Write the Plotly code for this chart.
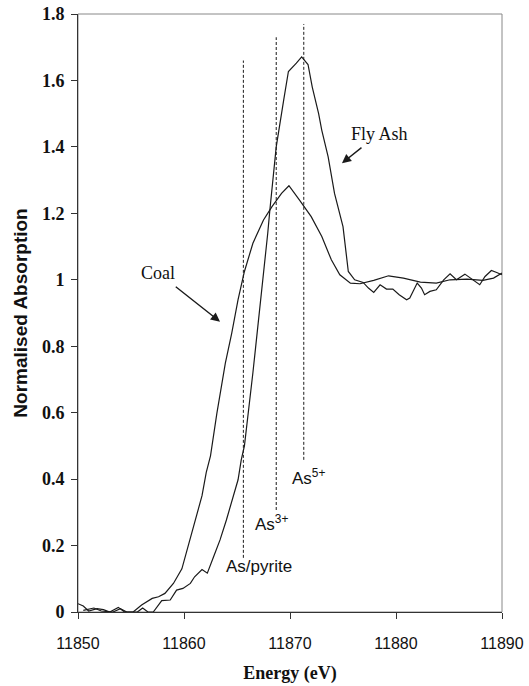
import plotly.graph_objects as go

# ---- data ----
coal_E = [11850.0, 11850.5, 11851.0, 11851.8, 11852.4, 11853.0, 11853.8, 11854.4, 11855.2,
          11856.0, 11857.0, 11857.6, 11858.2, 11859.0, 11859.8, 11860.6, 11861.0, 11861.7,
          11862.1, 11862.5, 11863.1, 11863.9, 11864.5, 11865.1, 11865.7, 11866.5, 11867.5,
          11868.3, 11869.2, 11869.9, 11870.9, 11872.0, 11873.0, 11873.9, 11874.7, 11875.7,
          11876.6, 11877.9, 11879.3, 11880.7, 11882.3, 11883.8, 11885.1, 11886.7, 11888.2,
          11889.2, 11890.0]
coal_A = [0.025, 0.018, 0.003, 0.010, 0.007, 0.0, 0.014, 0.0, 0.0,
          0.021, 0.041, 0.046, 0.056, 0.086, 0.13, 0.22, 0.27, 0.35,
          0.42, 0.47, 0.598, 0.749, 0.839, 0.94, 1.025, 1.11, 1.18,
          1.22, 1.26, 1.283, 1.24, 1.19, 1.13, 1.06, 1.015, 0.99,
          0.988, 0.998, 1.012, 1.005, 0.993, 0.99, 1.0, 1.002, 0.998,
          1.005, 1.02]

ash_E = [11850.5, 11851.5, 11852.2, 11853.3, 11854.0, 11854.6, 11855.6, 11856.1, 11856.6,
         11857.1, 11857.9, 11858.7, 11859.3, 11859.9, 11860.6, 11861.0, 11861.7, 11862.2,
         11862.8, 11863.4, 11864.0, 11864.7, 11865.1, 11865.4, 11865.7, 11866.5, 11867.3,
         11867.9, 11868.1, 11868.7, 11869.4, 11869.85, 11870.6, 11871.1, 11871.7, 11872.1,
         11872.7, 11873.0, 11873.6, 11874.2, 11875.0, 11875.2, 11875.5, 11876.1, 11876.9,
         11877.4, 11877.9, 11878.5, 11879.1, 11879.7, 11880.3, 11881.0, 11881.3, 11882.0,
         11882.4, 11882.7, 11883.2, 11883.8, 11884.5, 11885.1, 11885.7, 11886.5, 11887.3,
         11887.9, 11888.4, 11889.0, 11889.5, 11890.0]
ash_A = [0.005, 0.012, 0.003, 0.0, 0.01, 0.0, 0.0, 0.012, 0.0,
         0.0, 0.034, 0.036, 0.066, 0.071, 0.086, 0.106, 0.128, 0.117,
         0.167, 0.217, 0.277, 0.357, 0.398, 0.458, 0.50, 0.72, 0.95,
         1.14, 1.21, 1.40, 1.54, 1.627, 1.652, 1.671, 1.648, 1.58,
         1.50, 1.45, 1.37, 1.26, 1.16, 1.10, 1.025, 1.0, 0.992,
         0.975, 0.962, 0.985, 0.972, 0.972, 0.955, 0.94, 0.945, 0.99,
         0.975, 0.955, 0.965, 0.97, 1.0, 1.018, 1.0, 1.017, 0.998,
         0.985, 1.01, 1.028, 1.022, 1.015]

ref_names = ["As/pyrite", "As<sup>3+</sup>", "As<sup>5+</sup>"]
ref_E = [11865.6, 11868.7, 11871.3]
ref_top = [1.66, 1.73, 1.77]
ref_bottom = [0.163, 0.307, 0.458]
ref_label_E = [11867.1, 11868.3, 11871.7]
ref_label_A = [0.136, 0.268, 0.406]

sample_names = ["Coal", "Fly Ash"]
sample_label_E = [11857.55, 11878.4]
sample_label_A = [1.021, 1.44]
sample_arrow_E = [11863.4, 11874.9]
sample_arrow_A = [0.874, 1.351]

x_ticks = [11850, 11860, 11870, 11880, 11890]
y_ticks = [0, 0.2, 0.4, 0.6, 0.8, 1.0, 1.2, 1.4, 1.6, 1.8]

line_col = "#1a1a1a"

fig = go.Figure()
fig.add_trace(go.Scatter(x=coal_E, y=coal_A, mode="lines", name="Coal",
                         line=dict(color=line_col, width=1.2), showlegend=False))
fig.add_trace(go.Scatter(x=ash_E, y=ash_A, mode="lines", name="Fly Ash",
                         line=dict(color=line_col, width=1.2), showlegend=False))
for e, t, b in zip(ref_E, ref_top, ref_bottom):
    fig.add_trace(go.Scatter(x=[e, e], y=[b, t], mode="lines", showlegend=False,
                             line=dict(color=line_col, width=1, dash="3px,2px")))

sans = "Liberation Sans, Arial, sans-serif"
serif = "Liberation Serif, Times New Roman, serif"

for name, ex, ay in zip(ref_names, ref_label_E, ref_label_A):
    fig.add_annotation(x=ex, y=ay, text=name, showarrow=False,
                       font=dict(family=sans, size=17, color="#111"))

# sample labels with arrows (text sits at arrow tail)
for name, lx, ly, hx, hy in zip(sample_names, sample_label_E, sample_label_A,
                                sample_arrow_E, sample_arrow_A):
    fig.add_annotation(x=hx, y=hy, ax=lx, ay=ly, axref="x", ayref="y",
                       text=name, showarrow=True, arrowhead=2, arrowsize=1.3,
                       arrowwidth=1.4, arrowcolor=line_col, standoff=0, startstandoff=4,
                       font=dict(family=serif, size=18, color="#111"))

fig.update_layout(
    width=529, height=686,
    margin=dict(l=78, r=27, t=14, b=74),
    paper_bgcolor="white", plot_bgcolor="white",
    showlegend=False,
)
fig.update_xaxes(range=[11850, 11890], tickvals=x_ticks, ticktext=[str(v) for v in x_ticks],
                 automargin=False,
                 showgrid=False, zeroline=False, showline=True, linecolor="#333", linewidth=1,
                 ticks="outside", ticklen=6, tickcolor="#333", ticklabelstandoff=11,
                 tickfont=dict(family=sans, size=16, color="#111"),
                 title=dict(text="<b>Energy (eV)</b>", font=dict(family=serif, size=18, color="#111"),
                            standoff=15))
fig.update_yaxes(range=[0, 1.8], tickvals=y_ticks,
                 ticktext=["<b>%g</b>" % v for v in y_ticks],
                 automargin=False,
                 showgrid=False, zeroline=False, showline=True, linecolor="#333", linewidth=1,
                 ticks="outside", ticklen=6, tickcolor="#333", ticklabelstandoff=3,
                 tickfont=dict(family=serif, size=18, color="#111"),
                 title=dict(text="<b>Normalised Absorption</b>", font=dict(family=sans, size=19, color="#111"),
                            standoff=9))
# plot-area border (top and right, lighter)
fig.add_shape(type="rect", xref="x domain", yref="y domain", x0=0, x1=1, y0=0, y1=1,
              line=dict(color="#888", width=1), layer="below")

fig.write_html("out.html")
